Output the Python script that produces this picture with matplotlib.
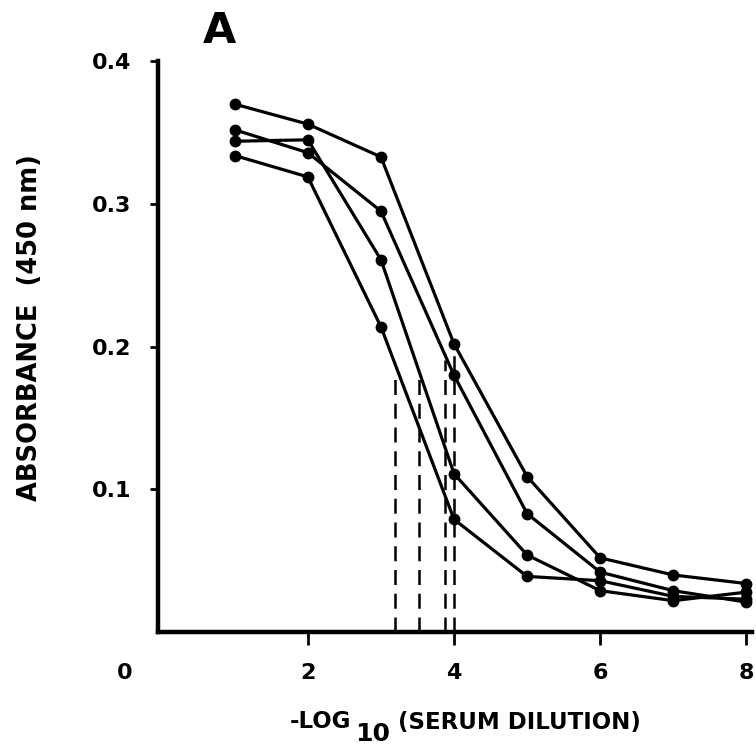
import matplotlib
matplotlib.use("Agg")
import matplotlib.pyplot as plt

# -log10 serum dilution
dilution = [1, 2, 3, 4, 5, 6, 7, 8]

serum1 = [0.370, 0.356, 0.333, 0.202, 0.109, 0.052, 0.040, 0.034]
serum2 = [0.352, 0.336, 0.295, 0.180, 0.083, 0.042, 0.029, 0.021]
serum3 = [0.344, 0.345, 0.261, 0.111, 0.054, 0.029, 0.022, 0.028]
serum4 = [0.334, 0.319, 0.214, 0.079, 0.039, 0.036, 0.025, 0.023]

# titre markers (dashed drops)
titre_x = [3.19, 3.52, 3.87, 4.0]
titre_top = [0.181, 0.183, 0.191, 0.198]

xticks = [2, 4, 6, 8]
yticks = [0.1, 0.2, 0.3, 0.4]
ytick_labels = ["0.1", "0.2", "0.3", "0.4"]

plt.rcParams['font.family'] = ['DejaVu Sans']

fig = plt.figure(figsize=(7.56, 7.48), dpi=100)
ax = fig.add_axes([0.209, 0.155, 0.786, 0.763])

for s in [serum1, serum2, serum3, serum4]:
    ax.plot(dilution, s, color="black", lw=2.3, marker="o", ms=7.5,
            markerfacecolor="black", markeredgecolor="black", clip_on=False)

ax.vlines(titre_x, 0, titre_top, colors="black", lw=1.8,
          linestyles=[(0, (6, 3.5))])

ax.set_xlim(-0.05, 8.08)
ax.set_ylim(0, 0.4)

for side in ["top", "right"]:
    ax.spines[side].set_visible(False)
for side in ["left", "bottom"]:
    ax.spines[side].set_linewidth(3.2)
    ax.spines[side].set_capstyle("projecting")

ax.set_xticks(xticks)
ax.set_xticklabels([str(v) for v in xticks], fontsize=16, fontweight="bold")
ax.set_yticks(yticks)
ax.set_yticklabels(ytick_labels, fontsize=16, fontweight="bold")
ax.tick_params(axis="x", direction="out", length=9, width=2, pad=13)
ax.tick_params(axis="y", direction="out", length=6, width=2, pad=13)

# origin label
fig.text(125 / 756, 1 - 673 / 748, "0", fontsize=16, fontweight="bold",
         ha="center", va="center")

# panel letter
fig.text(219 / 756, 1 - 31 / 748, "A", fontsize=31, fontweight="bold",
         ha="center", va="center")

# axis labels
fig.text(30 / 756, 1 - 328 / 748, "ABSORBANCE  (450 nm)", fontsize=18.5,
         fontweight="bold", rotation=90, ha="center", va="center")
fig.text(351 / 756, 1 - 722 / 748, "-LOG", fontsize=16.5, fontweight="bold",
         ha="right", va="center")
fig.text(355 / 756, 1 - 734 / 748, "10", fontsize=18, fontweight="bold",
         ha="left", va="center")
fig.text(398 / 756, 1 - 722 / 748, "(SERUM DILUTION)", fontsize=16.5,
         fontweight="bold", ha="left", va="center")

fig.savefig("out.png", dpi=100)
